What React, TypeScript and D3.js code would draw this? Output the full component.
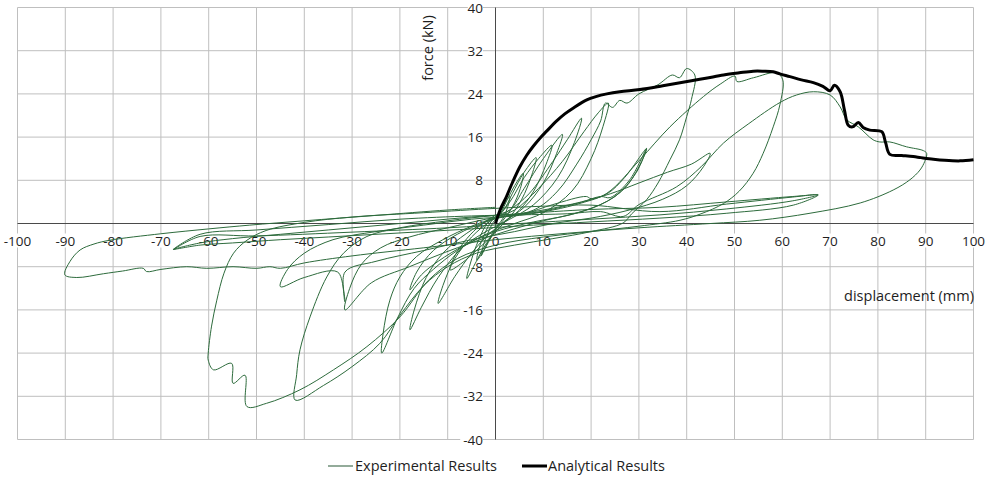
import React from "react";
import * as d3 from "d3";

type P = [number, number];

const xTicks = [-100, -90, -80, -70, -60, -50, -40, -30, -20, -10, 0, 10, 20, 30, 40, 50, 60, 70, 80, 90, 100];
const yTicks = [-40, -32, -24, -16, -8, 0, 8, 16, 24, 32, 40];
const xTitle = "displacement (mm)";
const yTitle = "force (kN)";
const seriesNames = ["Experimental Results", "Analytical Results"];

const analytical: P[] = [
  [0, 0], [1, 2.6], [2.3, 5], [3.5, 7.5], [5.1, 10.5], [6.5, 12.6], [7.9, 14.3], [9.3, 15.8], [10.7, 17.1],
  [12.8, 19.0], [14.5, 20.3], [16.3, 21.4], [19.1, 22.9], [21, 23.5], [23.3, 24.0], [26, 24.4], [30.2, 24.8],
  [35, 25.5], [40.7, 26.4], [44, 26.9], [47.7, 27.5], [51, 27.9], [53.9, 28.2], [56, 28.2], [58.1, 28.1],
  [59.5, 27.7], [61.6, 27.2], [64, 26.6], [66.5, 26.1], [68.5, 25.4], [70, 24.6], [70.9, 25.6], [72.1, 24.4],
  [73, 21], [73.8, 18.2], [74.7, 17.9], [75.9, 18.7], [76.9, 17.8], [78.3, 17.3], [80.8, 17.0], [81.6, 15],
  [82.5, 12.8], [85, 12.6], [87.4, 12.4], [89, 12.2], [91.6, 11.9], [94, 11.7], [97.2, 11.6], [100, 11.8],
];

const cycle1: P[] = [
  [0, 0], [0.8, 1.8], [1.8, 3.6], [3, 5], [2.6, 3.2], [1.6, 1.0], [0.5, -0.3], [-0.8, -2.0], [-2, -4.2],
  [-3, -6], [-2.6, -4.2], [-1.6, -1.8], [-0.5, 0.2],
];
const cycle2: P[] = [
  [1, 1.8], [2.5, 4.5], [4, 7], [5.8, 9.3], [5.2, 6.5], [3.5, 3], [1.5, 0.5], [0, -1.2], [-1.5, -3.5],
  [-2.8, -5.5], [-3.9, -6.8], [-3.4, -4.5], [-2.2, -1.8], [-0.8, 0.5],
];
const cycle3: P[] = [
  [1.5, 2.2], [3.5, 5.5], [6, 9.5], [8.5, 12.2], [7.6, 9], [5.5, 4.5], [3, 1.2], [0.5, -1], [-2, -3.8],
  [-4, -7], [-6, -10.2], [-5.3, -7.5], [-3.5, -3], [-1.5, 0.3], [0.5, 1.5],
];
const cycle4: P[] = [
  [3, 4], [6, 8.5], [9, 12], [11.8, 14.5], [10.6, 11], [8, 6], [5, 2.5], [2, 0.3], [-1, -2.5], [-4, -5],
  [-7, -7.3], [-9.5, -8.6], [-8.5, -6], [-6, -2.8], [-3, -0.2], [0, 1.5],
];
const cycle5: P[] = [
  [3, 2.5], [6, 6.5], [10, 12], [14, 16.5], [12.8, 13], [10, 7.5], [6, 3], [2, 0.5], [-2, -2.5], [-5, -5.5],
  [-8.5, -9.8], [-12, -14.8], [-11, -11.5], [-8.5, -6.5], [-5, -2.5], [-1, 0.5],
];
const cycle6: P[] = [
  [3, 2.5], [7, 5.5], [12, 11.5], [15, 15.5], [18, 19.5], [16.5, 15], [13, 8.5], [8, 3.5], [3, 0.8],
  [-2, -1.5], [-7, -4.5], [-12, -10], [-15.5, -15.5], [-17.9, -19.7], [-17, -16], [-14.5, -10], [-11, -5.5],
  [-6, -1.8], [-1, 0.8],
];
const cycle7: P[] = [
  [4, 2.5], [9, 6.5], [14, 11.5], [18.5, 17], [21.5, 20.5], [23.6, 22.3], [22.5, 18], [20, 12], [16, 6],
  [10, 2], [4, 0], [-2, -2], [-8, -5], [-13, -8.5], [-17, -12], [-20.5, -17.5], [-23.8, -24], [-23.5, -20.3],
  [-22.1, -14.2], [-20, -9.9], [-16.5, -6.1], [-11, -3], [-5, -0.5], [0, 1],
];
const cycle8: P[] = [
  [6, 1.8], [12, 3.5], [19, 5], [20, 4.6], [23.5, 5.6], [27, 8.5], [31.6, 13.9], [30, 10.5], [27, 6.5],
  [22, 3.5], [15, 1.5], [8, 0.3], [0, -1.5], [-6, -3.8], [-12, -7], [-15.5, -9.5], [-17.9, -12.3],
  [-16.5, -9], [-13, -5], [-8, -2], [-2, 0.3], [3, 1.5], [10, 2.5], [18, 4], [22, 5], [24, 4.8], [28, 8],
  [31.6, 13.9], [29.5, 9.5], [25, 5], [18, 2.2], [10, 0.5], [2, -1.5], [-8, -4.5], [-18, -8], [-26, -11],
  [-31.5, -16], [-30.5, -12], [-28, -7.5], [-24, -4.5], [-18, -2.5], [-10, -0.8], [-2, 0.8],
];
const cycle9: P[] = [
  [8, 2.5], [13, 6], [17, 11], [20, 15.5], [22, 19], [23, 22.3], [24.5, 21.5], [26, 22.8], [27.5, 22.3],
  [30, 24], [34, 25.7], [37, 27.5], [38.5, 27], [40, 28.7], [41.7, 27.5], [41, 23], [40, 19.8], [38.5, 15.5],
  [36.5, 11.8], [34, 7.5], [31.6, 4.4], [28.5, 1.8], [26.7, 0.1], [20, -1.5], [12, -2.8], [4, -4],
  [-4, -5.5], [-10, -8], [-15, -11.5], [-20, -17], [-24.2, -22.2], [-30, -26.5], [-36, -30], [-41.9, -32.7],
  [-41.6, -28], [-40.9, -23.4], [-38.8, -17.3], [-35.3, -9.9], [-31.8, -5.5], [-26.9, -2.4], [-20, -0.8],
  [-10, 0.5], [0, 1.5],
];
const cycle10: P[] = [
  [8, 2], [16, 3.5], [24, 5.5], [30, 7.5], [36, 9.5], [41, 11], [44.9, 13], [43.5, 10.5], [40, 7], [35, 4.5],
  [28, 2.5], [20, 1], [12, 0], [4, -1.5], [-5, -3], [-15, -5], [-25, -7], [-31.5, -9], [-31.5, -14.5],
  [-33, -9], [-40, -10], [-45, -11.7], [-43.5, -8.5], [-40, -5.5], [-34, -3], [-25, -1.5], [-15, -0.3],
  [-5, 0.8],
];
const cycle11: P[] = [
  [5, 1.5], [12, 2.5], [18, 3.8], [23.3, 5.6], [30.2, 11.8], [36.5, 17.9], [43.5, 23.5], [47, 25.8],
  [50.1, 27.3], [50.5, 26.3], [54, 27], [58.8, 27.9], [60.1, 26.6], [59.5, 22], [58.1, 17.9], [56, 13],
  [53.9, 9.3], [51, 6], [47.7, 3.7], [43, 1.8], [38.6, 0.6], [30, -0.5], [20, -1.5], [10, -2.5], [0, -4],
  [-8, -6.5], [-14, -10.5], [-20, -17.3], [-26.9, -22.8], [-33.9, -27.1], [-40.9, -30.8], [-47.9, -33.3],
  [-52, -33.9], [-52.4, -28.1], [-54.9, -29.6], [-55.2, -25.9], [-59, -27.1], [-60.1, -25.3], [-60.1, -24],
  [-59.4, -19], [-58.3, -14.2], [-56.8, -9.2], [-54.8, -5.5], [-52, -3.1], [-48, -1.3], [-40, 0.2],
  [-30, 1.2], [-15, 2], [0, 2.8],
];
const cycle12: P[] = [
  [10, 3.2], [20, 3.4], [34.4, 2.2], [48.4, 3.6], [62.2, 4.9], [67.5, 5.3], [62.3, 3.4], [48.4, 1.9],
  [34.4, 1.0], [20, 0.3], [8, -0.3], [-5, -1], [-15, -1.5], [-25, -2], [-35, -2.5], [-45, -3], [-55, -3.6],
  [-61.8, -4.0], [-67.4, -4.8], [-61.8, -3.6], [-55, -2.8], [-45, -2], [-35, -1.2], [-25, -0.4], [-15, 0.4],
  [-5, 1.2], [5, 1.8], [20, 2.6], [34.4, 3.0], [48.4, 4.0], [62.2, 5.0], [67.5, 5.3], [62.2, 4.2],
  [48.4, 2.7], [34.4, 1.6], [20, 0.8], [5, 0], [-10, -0.8], [-30, -1.6], [-50, -2.3], [-61.8, -2.4],
  [-67.4, -4.8], [-61.8, -2.0], [-50, -1.2], [-35, -0.2], [-20, 0.8], [-5, 1.4], [5, 1.6],
];
const cycle13: P[] = [
  [15, 1.8], [22, 2.2], [26.7, 1.3], [30, 3.5], [37.9, 6.8], [43, 10.5], [47.7, 14.9], [53, 18.5],
  [59.5, 22.4], [63, 23.8], [66.5, 24.4], [70, 23.8], [72.1, 21.6], [73.5, 19.2], [75.9, 17.9], [79, 15.5],
  [80.4, 15.1], [82.5, 15.1], [86, 14.2], [89.5, 13.5], [90.2, 13], [89.8, 11.5], [88.8, 9.9], [86.7, 8.1],
  [83.2, 6.2], [76.3, 3.8], [65.8, 1.9], [55.3, 0.6], [45, 0], [30, -0.8], [15, -1.8], [0, -3], [-15, -4.5],
  [-30, -6], [-40, -7.3], [-45, -8.3], [-47.2, -8], [-50, -8.3], [-54.9, -8], [-60.4, -8.3], [-64.6, -8],
  [-70, -8.5], [-73, -8.9], [-73.7, -8.3], [-78, -8.8], [-82, -9.3], [-87.6, -10], [-90.1, -9.5], [-89, -7],
  [-86.9, -4.9], [-84, -3.8], [-80.7, -3.1], [-70, -1.9], [-60, -1], [-51.4, -0.3], [-40, 0.5], [-25, 1.5],
  [-10, 2.5], [0, 3],
];

const experimental: P[] = [
  ...cycle1, ...cycle2, ...cycle3, ...cycle4, ...cycle5, ...cycle6, ...cycle7,
  ...cycle8, ...cycle9, ...cycle10, ...cycle11, ...cycle12, ...cycle13,
];

const W = 994;
const H = 477;
const FONT = "'Open Sans', 'Noto Sans', sans-serif";
const GREEN = "#2d6b3c";
const TEXT = "#1e1e1e";

export default function App() {
  const x = d3.scaleLinear().domain([-100, 100]).range([17.5, 973.5]);
  const y = d3.scaleLinear().domain([-40, 40]).range([439.5, 7.5]);
  const line = d3
    .line<P>()
    .x((d) => x(d[0]))
    .y((d) => y(d[1]))
    .curve(d3.curveCatmullRom.alpha(0.5));
  const expPath = line(experimental) || "";
  const anaPath = line(analytical) || "";

  return (
    <svg
      width={W}
      height={H}
      style={{ position: "absolute", left: 0, top: 0, background: "#fff" }}
      fontFamily={FONT}
    >
      <rect x={0} y={0} width={W} height={H} fill="#fff" />
      {xTicks.map((t) => (
        <line key={"gx" + t} x1={x(t)} x2={x(t)} y1={y(40)} y2={y(-40)} stroke="#bfbfbf" strokeWidth={1} />
      ))}
      {yTicks.map((t) => (
        <line key={"gy" + t} x1={x(-100)} x2={x(100)} y1={y(t)} y2={y(t)} stroke="#bfbfbf" strokeWidth={1} />
      ))}
      <line x1={x(-100)} x2={x(100)} y1={y(0)} y2={y(0)} stroke="#4a4a4a" strokeWidth={1} />
      <line x1={x(0)} x2={x(0)} y1={y(40)} y2={y(-40)} stroke="#4a4a4a" strokeWidth={1} />
      {xTicks.map((t) => (
        <g key={"xl" + t}>
          <rect x={x(t) - (String(t).length * 7.6) / 2} y={y(0) + 10} width={String(t).length * 7.6} height={14} fill="#fff" />
          <text x={x(t)} y={y(0) + 22} textAnchor="middle" fontSize={13.5} fill={TEXT}>
            {t}
          </text>
        </g>
      ))}
      {yTicks.map((t) => (
        <g key={"yl" + t}>
          <rect x={483 - String(t).length * 7.6} y={y(t) - 6} width={String(t).length * 7.6} height={12} fill="#fff" />
          <text x={483} y={y(t) + 5} textAnchor="end" fontSize={13.5} fill={TEXT}>
            {t}
          </text>
        </g>
      ))}
      <text x={974} y={301} textAnchor="end" fontSize={14.5} fill={TEXT}>
        {xTitle}
      </text>
      <text transform={`translate(433,48) rotate(-90)`} textAnchor="middle" fontSize={14.5} fill={TEXT}>
        {yTitle}
      </text>
      <path d={expPath} fill="none" stroke={GREEN} strokeWidth={1} strokeLinejoin="round" />
      <path d={anaPath} fill="none" stroke="#000" strokeWidth={3} strokeLinejoin="round" />
      <line x1={328} x2={353} y1={466} y2={466} stroke="#6f8f78" strokeWidth={1.5} />
      <text x={355} y={471} fontSize={14.5} fill={TEXT}>
        {seriesNames[0]}
      </text>
      <line x1={522} x2={547} y1={466} y2={466} stroke="#000" strokeWidth={3} />
      <text x={548} y={471} fontSize={14.5} fill={TEXT}>
        {seriesNames[1]}
      </text>
    </svg>
  );
}
